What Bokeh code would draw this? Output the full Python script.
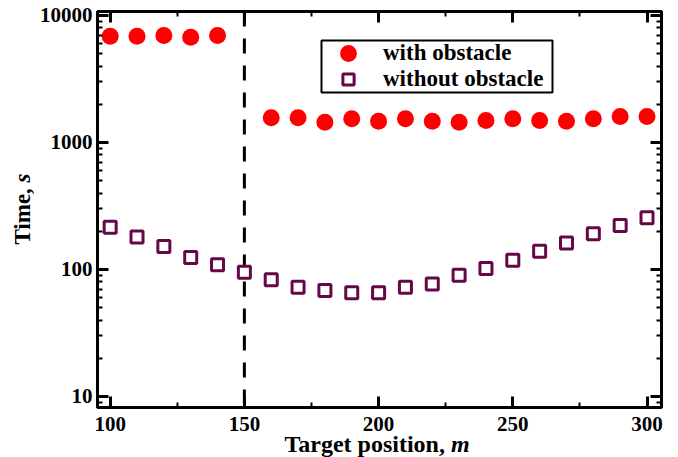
from bokeh.plotting import figure
from bokeh.layouts import row, column
from bokeh.models import (Span, Legend, LegendItem, LinearAxis, LogAxis,
                          FixedTicker, Range1d, BoxAnnotation, Div)
from bokeh.embed import file_html
from bokeh.resources import INLINE

# ---- data ----
pos_with = [100, 110, 120, 130, 140, 160, 170, 180, 190, 200, 210, 220, 230, 240,
            250, 260, 270, 280, 290, 300]
time_with = [6870, 6870, 6960, 6750, 6960, 1563, 1563, 1445, 1538, 1472, 1538, 1472,
             1445, 1490, 1538, 1490, 1472, 1538, 1603, 1603]
pos_without = [100, 110, 120, 130, 140, 150, 160, 170, 180, 190, 200, 210, 220, 230,
               240, 250, 260, 270, 280, 290, 300]
time_without = [215, 180, 152, 124, 109, 95, 83, 72.6, 68.4, 65.6, 65.6, 72.6, 77, 90,
                102, 118, 139, 162, 191, 222, 255]
obstacle_pos = 150
x_ticks = [100, 150, 200, 250, 300]
x_minor_ticks = [125, 175, 225, 275]
y_ticks = [10, 100, 1000, 10000]
y_tick_labels = ["10", "100", "1000", "10000"]
series_labels = ["with obstacle", "without obstacle"]
x_title = ("Target position, ", "m")
y_title = ("Time, ", "s")

FONT = "Liberation Serif"
y_minor_ticks = [m * 10 ** k for k in range(0, 4) for m in range(2, 10)]

YT_W = 36          # width of the y-title strip
P_W, P_H = 642, 441

p = figure(width=P_W, height=P_H, output_backend="svg", toolbar_location=None,
           y_axis_type="log", x_range=Range1d(95.28, 305.4),
           y_range=Range1d(8.19, 10750),
           min_border_left=60, min_border_right=17, min_border_top=11, min_border_bottom=34)
p.background_fill_color = "white"
p.border_fill_color = "white"
p.outline_line_color = "black"
p.outline_line_width = 3
p.xgrid.visible = False
p.ygrid.visible = False

xt = FixedTicker(ticks=x_ticks, minor_ticks=x_minor_ticks)
yt = FixedTicker(ticks=y_ticks, minor_ticks=y_minor_ticks)


def style_axis(ax, ticker, show_labels=True, overrides=None):
    ax.ticker = ticker
    ax.axis_line_color = "black"
    ax.axis_line_width = 3
    ax.major_tick_in = 11
    ax.major_tick_out = 0
    ax.minor_tick_in = 5
    ax.minor_tick_out = 0
    ax.major_tick_line_width = 3
    ax.minor_tick_line_width = 2
    ax.major_tick_line_color = "black"
    ax.minor_tick_line_color = "black"
    if show_labels:
        ax.major_label_text_font = FONT
        ax.major_label_text_font_style = "bold"
        ax.major_label_text_font_size = "21px"
        ax.major_label_text_color = "black"
        if overrides:
            ax.major_label_overrides = overrides
    else:
        ax.major_label_text_font_size = "1px"
        ax.major_label_text_color = None
        ax.major_label_standoff = 0


style_axis(p.xaxis[0], xt)
p.xaxis[0].major_label_standoff = 9
style_axis(p.yaxis[0], yt, overrides=dict(zip(y_ticks, y_tick_labels)))
p.yaxis[0].major_label_standoff = 5

top_ax = LinearAxis()
style_axis(top_ax, xt, show_labels=False)
p.add_layout(top_ax, "above")
right_ax = LogAxis()
style_axis(right_ax, yt, show_labels=False)
p.add_layout(right_ax, "right")

# obstacle marker line
span = Span(location=obstacle_pos, dimension="height", line_color="black",
            line_width=3, line_dash="15 12", level="underlay")
p.add_layout(span)

r_with = p.scatter(pos_with, time_with, marker="circle", size=17,
                   fill_color="#ff0000", line_color=None)
r_without = p.scatter(pos_without, time_without, marker="square", size=12,
                      fill_color="white", line_color="#670748", line_width=3)

# legend (two single-item legends inside one drawn frame)
leg_common = dict(padding=0, margin=0, border_line_color=None, background_fill_alpha=0,
                  label_text_font=FONT, label_text_font_style="bold",
                  label_text_font_size="23px", label_text_color="black", spacing=0)
leg_a = Legend(items=[LegendItem(label=series_labels[0], renderers=[r_with])],
               location=(230, 333), glyph_width=42, glyph_height=42,
               label_standoff=14, **leg_common)
leg_b = Legend(items=[LegendItem(label=series_labels[1], renderers=[r_without])],
               location=(237, 314.5), glyph_width=28, glyph_height=28,
               label_standoff=21, **leg_common)
p.add_layout(leg_a)
p.add_layout(leg_b)
box = BoxAnnotation(left=224, right=455, bottom=315, top=367,
                    left_units="screen", right_units="screen",
                    bottom_units="screen", top_units="screen",
                    fill_color=None, fill_alpha=0, line_color="black",
                    line_alpha=1.0, line_width=2)
p.add_layout(box)

# axis titles as HTML text (plain part + italic variable)
base_css = ("position:absolute;white-space:nowrap;font-family:'Liberation Serif';"
            "font-weight:bold;color:#000;")
y_html = ('<div style="position:relative;width:%dpx;height:457px;">'
          '<span style="%sleft:11px;top:209px;font-size:23px;line-height:23px;'
          'writing-mode:vertical-rl;transform:translateY(-50%%) rotate(180deg);">'
          '%s<i>%s</i></span></div>') % (YT_W, base_css, y_title[0], y_title[1])
x_html = ('<div style="position:relative;width:%dpx;height:26px;">'
          '<span style="%sleft:%dpx;top:1px;font-size:24px;line-height:24px;'
          'transform:translateX(-50%%);">%s<i>%s</i></span></div>') % (
              P_W, base_css, 377 - YT_W, x_title[0], x_title[1])

div_y = Div(text=y_html, width=YT_W, height=457, margin=(0, 0, 0, 0))
div_x = Div(text=x_html, width=P_W, height=26, margin=(-10, 0, 0, 0))

layout = row(div_y, column(p, div_x, spacing=0), spacing=0)

open("out.html", "w").write(file_html(layout, INLINE))
